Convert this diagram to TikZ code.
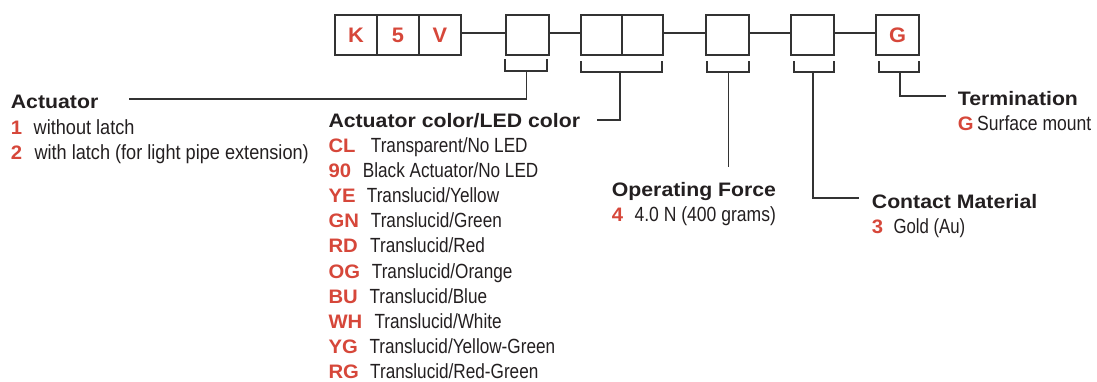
\documentclass[tikz,border=0pt]{standalone}
\usepackage{fontspec}
\setmainfont{Liberation Sans}
\newfontfamily\hfont[FakeStretch=1.09]{Liberation Sans Bold}
\newfontfamily\cfont[FakeStretch=1.04]{Liberation Sans Bold}
\newfontfamily\dfont[FakeStretch=0.837]{Liberation Sans}
\newfontfamily\dfontA[FakeStretch=0.885]{Liberation Sans}
\newfontfamily\dfontB[FakeStretch=0.856]{Liberation Sans}
\newfontfamily\dfontC[FakeStretch=0.818]{Liberation Sans}
\usetikzlibrary{calc}
\definecolor{codered}{HTML}{D6473A}
\definecolor{lncol}{HTML}{333333}
\definecolor{txt}{HTML}{231F20}
\begin{document}
\begin{tikzpicture}[x=1pt,y=-1pt,
  box/.style={draw=lncol, line width=1.4pt, minimum width=42pt, minimum height=40pt, inner sep=0pt,
    font=\cfont\fontsize{21}{21}\selectfont, text=codered},
  nbox/.style={box, minimum width=41pt},
  head/.style={anchor=base west, inner sep=0pt, font=\hfont\fontsize{19.5}{20}\selectfont, text=txt},
  code/.style={anchor=base west, inner sep=0pt, font=\cfont\fontsize{19.5}{20}\selectfont, text=codered},
  desc/.style={anchor=base west, inner sep=0pt, font=\dfont\fontsize{20.5}{21}\selectfont, text=txt},
  descA/.style={desc, font=\dfontA\fontsize{20.5}{21}\selectfont},
  descB/.style={desc, font=\dfontB\fontsize{20.5}{21}\selectfont},
  descC/.style={desc, font=\dfontC\fontsize{20.5}{21}\selectfont},
  ln/.style={draw=lncol, line width=1.3pt},
  bracket/.style={draw=lncol, line width=1.3pt}
]
\useasboundingbox (0,0) rectangle (1097,381);

% code boxes
\node[box] (k) at (356,35) {K};
\node[box] (five) at (398,35) {5};
\node[box] (v) at (440,35) {V};
\node[box, minimum width=43pt] (b1) at (527.5,35) {};
\node[nbox] (b2a) at (601.5,35) {};
\node[nbox] (b2b) at (642.5,35) {};
\node[box, minimum width=43pt] (b4) at (727.5,35) {};
\node[box, minimum width=43pt] (b5) at (812.5,35) {};
\node[box, minimum width=43pt] (g) at (897.5,35) {G};

% joining lines
\draw[ln] ([yshift=2pt]v.east) -- ([yshift=2pt]b1.west);
\draw[ln] ([yshift=2pt]b1.east) -- ([yshift=2pt]b2a.west);
\draw[ln] ([yshift=2pt]b2b.east) -- ([yshift=2pt]b4.west);
\draw[ln] ([yshift=2pt]b4.east) -- ([yshift=2pt]b5.west);
\draw[ln] ([yshift=2pt]b5.east) -- ([yshift=2pt]g.west);

% brackets
\draw[bracket] (505,59) -- (505,71) -- (547,71) -- (547,59);
\coordinate (m1) at (526.5,71);
\draw[bracket] (581,61) -- (581,72) -- (662,72) -- (662,61);
\coordinate (m2) at (620,72);
\draw[bracket] (707,61) -- (707,72) -- (749,72) -- (749,61);
\coordinate (m4) at (728.5,72);
\draw[bracket] (794,61) -- (794,72) -- (834,72) -- (834,61);
\coordinate (m5) at (813,72);
\draw[bracket] (879,61) -- (879,72) -- (919,72) -- (919,61);
\coordinate (mg) at (900,72);

% Actuator
\node[head] (acth) at (10.7,108) {Actuator};
\node[code] (a1c) at (10.7,134) {1};
\node[descA] (a1d) at (33.5,134) {without latch};
\node[code] (a2c) at (10.7,159) {2};
\node[descA] (a2d) at (34.3,159) {with latch (for light pipe extension)};
\coordinate (actend) at (129,99);
\draw[ln] (m1) |- (actend);

% Actuator color/LED color
\node[head] (colh) at (328.3,127) {Actuator color/LED color};
\coordinate (colend) at (597,120);
\draw[ln] (m2) |- (colend);
\node[code] (c1c) at (328.3,152.0) {CL};
\node[desc] (c1d) at (370.7,152.0) {Transparent/No LED};
\node[code] (c2c) at (328.3,177.2) {90};
\node[desc] (c2d) at (362.7,177.2) {Black Actuator/No LED};
\node[code] (c3c) at (328.3,202.4) {YE};
\node[desc] (c3d) at (366.7,202.4) {Translucid/Yellow};
\node[code] (c4c) at (328.3,227.6) {GN};
\node[desc] (c4d) at (370.7,227.6) {Translucid/Green};
\node[code] (c5c) at (328.3,252.8) {RD};
\node[desc] (c5d) at (370.0,252.8) {Translucid/Red};
\node[code] (c6c) at (328.3,278.0) {OG};
\node[desc] (c6d) at (371.7,278.0) {Translucid/Orange};
\node[code] (c7c) at (328.3,303.2) {BU};
\node[desc] (c7d) at (369.3,303.2) {Translucid/Blue};
\node[code] (c8c) at (328.3,328.4) {WH};
\node[desc] (c8d) at (374.3,328.4) {Translucid/White};
\node[code] (c9c) at (328.3,353.6) {YG};
\node[desc] (c9d) at (369.3,353.6) {Translucid/Yellow-Green};
\node[code] (c10c) at (328.3,378.8) {RG};
\node[desc] (c10d) at (370.0,378.8) {Translucid/Red-Green};

% Operating Force
\node[head] (oph) at (611.7,196) {Operating Force};
\node[code] (o1c) at (611.7,221) {4};
\node[descB] (o1d) at (634.3,221) {4.0 N (400 grams)};
\coordinate (opend) at (728.5,167);
\draw[ln] (m4) -- (opend);

% Contact Material
\node[head] (cmh) at (871.7,208) {Contact Material};
\node[code] (cm1c) at (871.7,233) {3};
\node[descC] (cm1d) at (893.3,233) {Gold (Au)};
\coordinate (cmend) at (859,198);
\draw[ln] (m5) |- (cmend);

% Termination
\node[head] (th) at (957.7,105) {Termination};
\node[code] (t1c) at (957.7,130) {G};
\node[descB] (t1d) at (977,130) {Surface mount};
\coordinate (tend) at (946,96);
\draw[ln] (mg) |- (tend);
\end{tikzpicture}
\end{document}
